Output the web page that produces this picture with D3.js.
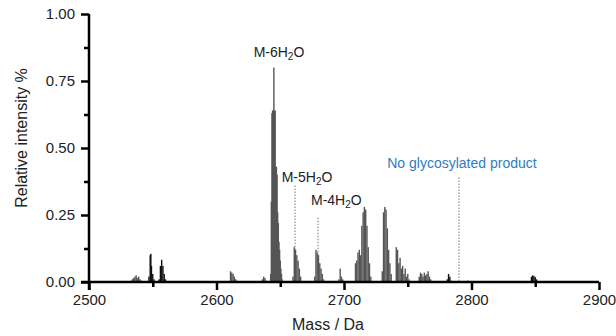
<!DOCTYPE html>
<html lang="en">
<head>
  <meta charset="UTF-8">
  <title>mass spectrum</title>
  <style>
    body { margin: 0; padding: 0; background: #fff; }
    svg { display: block; font-family: "Liberation Sans", Arial, sans-serif; }
    .axis path, .axis line { stroke: #000; stroke-width: 2.5px; }
    .axis text { font-size: 15px; fill: #222; }
  </style>
</head>
<body>
  <div class="chart"></div>

  <script src="https://cdnjs.cloudflare.com/ajax/libs/d3/7.8.5/d3.min.js"></script>
  <script>
    'use strict';

    // gray peaks (mass in Da, relative intensity)
    const grayMass = [
      2533, 2534, 2535, 2536, 2537, 2538, 2539, 2540, 2541,
      2611, 2612, 2613, 2614, 2615, 2616,
      2636, 2637, 2638, 2639,
      2642.5, 2643, 2643.5, 2644, 2644.5, 2645, 2645.5, 2646, 2646.5, 2647, 2647.5,
      2648, 2648.5, 2649, 2649.5, 2650, 2650.5, 2651, 2651.5,
      2660, 2661, 2662, 2663, 2664, 2665, 2666,
      2677, 2678, 2679, 2680, 2681, 2682, 2683, 2684,
      2696, 2697, 2698, 2699,
      2709, 2710, 2711, 2712, 2713, 2714, 2715, 2716, 2717, 2718, 2719, 2720, 2721,
      2730, 2731, 2732, 2733, 2734, 2735, 2736, 2737,
      2741, 2742, 2743, 2744, 2745, 2746, 2747, 2748, 2749, 2750, 2751,
      2759, 2760, 2761, 2762, 2763, 2764, 2765, 2766, 2767, 2768
    ];
    const grayInt = [
      0.005, 0.01, 0.015, 0.02, 0.025, 0.015, 0.02, 0.01, 0.005,
      0.04, 0.035, 0.03, 0.02, 0.01, 0.005,
      0.01, 0.02, 0.015, 0.005,
      0.03, 0.30, 0.63, 0.64, 0.64, 0.80, 0.64, 0.64, 0.43, 0.43, 0.40,
      0.26, 0.22, 0.15, 0.12, 0.08, 0.05, 0.03, 0.01,
      0.02, 0.13, 0.12, 0.10, 0.08, 0.05, 0.02,
      0.02, 0.12, 0.11, 0.10, 0.07, 0.05, 0.03, 0.01,
      0.01, 0.05, 0.02, 0.01,
      0.07, 0.08, 0.11, 0.12, 0.10, 0.21, 0.26, 0.28, 0.27, 0.21, 0.13, 0.07, 0.02,
      0.04, 0.26, 0.28, 0.27, 0.20, 0.12, 0.07, 0.03,
      0.13, 0.12, 0.07, 0.09, 0.05, 0.06, 0.03, 0.05, 0.02, 0.03, 0.01,
      0.02, 0.035, 0.03, 0.02, 0.035, 0.025, 0.03, 0.04, 0.02, 0.01
    ];

    // dark peaks
    const darkMass = [
      2547, 2548, 2548.5, 2549, 2550, 2551,
      2555, 2556, 2557, 2558, 2559, 2560,
      2781, 2782, 2783, 2784,
      2797, 2802, 2817,
      2847, 2848, 2849, 2850, 2851
    ];
    const darkInt = [
      0.02, 0.10, 0.105, 0.06, 0.03, 0.01,
      0.01, 0.06, 0.083, 0.06, 0.03, 0.01,
      0.01, 0.03, 0.02, 0.005,
      0.005, 0.003, 0.004,
      0.02, 0.025, 0.022, 0.018, 0.01
    ];

    const xTicks = [2500, 2600, 2700, 2800, 2900];
    const xMinor = [2550, 2650, 2750, 2850];
    const yTicks = [0, 0.25, 0.5, 0.75, 1.0];
    const yMinor = [0.125, 0.375, 0.625, 0.875];

    // annotations: text, label anchor (mass, value), guide line (mass, from, to)
    const annoText = ['M-6|2|O', 'M-5|2|O', 'M-4|2|O'];
    const annoMass = [2649, 2671, 2694];
    const annoY = [0.84, 0.373, 0.287];
    const guideMass = [null, 2661.6, 2679.6];
    const guideTop = [null, 0.36, 0.24];
    const guideBottom = [null, 0.115, 0.09];

    const noteText = 'No glycosylated product';
    const noteMass = 2792.5;
    const noteY = 0.425;
    const noteLine = [2790.2, 0.39, 0];

    const w = 616, h = 336;
    const x = d3.scaleLinear().domain([2500, 2900]).range([89, 599]);
    const y = d3.scaleLinear().domain([0, 1]).range([282, 14]);

    const svg = d3.select('.chart').append('svg')
      .attr('width', w)
      .attr('height', h);

    function drawBars(mass, inten, color) {
      svg.append('g')
        .selectAll('rect')
        .data(mass.map((m, i) => [m, inten[i]]))
        .join('rect')
        .attr('x', d => x(d[0]) - 0.7)
        .attr('width', 1.4)
        .attr('y', d => y(d[1]))
        .attr('height', d => y(0) - y(d[1]))
        .attr('fill', color);
    }

    drawBars(grayMass, grayInt, '#555');
    drawBars(darkMass, darkInt, '#111');

    // minor ticks
    svg.append('g')
      .attr('class', 'axis')
      .attr('transform', `translate(0,${y(0)})`)
      .call(d3.axisBottom(x).tickValues(xMinor).tickSize(5).tickSizeOuter(0).tickFormat(''))
      .select('.domain').remove();
    svg.append('g')
      .attr('class', 'axis')
      .attr('transform', `translate(${x(2500)},0)`)
      .call(d3.axisLeft(y).tickValues(yMinor).tickSize(5).tickSizeOuter(0).tickFormat(''))
      .select('.domain').remove();

    // major axes
    svg.append('g')
      .attr('class', 'axis')
      .attr('transform', `translate(0,${y(0)})`)
      .call(d3.axisBottom(x).tickValues(xTicks).tickSize(8).tickSizeOuter(0).tickPadding(4)
        .tickFormat(d3.format('d')))
      .call(g => g.select('.domain').attr('d', `M${x(2500) - 8},0H${x(2900)}`));
    svg.append('g')
      .attr('class', 'axis')
      .attr('transform', `translate(${x(2500)},0)`)
      .call(d3.axisLeft(y).tickValues(yTicks).tickSize(8).tickSizeOuter(0).tickPadding(6)
        .tickFormat(d3.format('.2f')))
      .call(g => g.select('.domain').attr('d', `M0,${y(1)}V${y(0) + 8}`));

    // axis titles
    svg.append('text')
      .attr('x', 328)
      .attr('y', 330)
      .attr('text-anchor', 'middle')
      .attr('font-size', 16)
      .attr('fill', '#222')
      .text('Mass / Da');
    svg.append('text')
      .attr('transform', 'translate(27,138) rotate(-90)')
      .attr('text-anchor', 'middle')
      .attr('font-size', 16)
      .attr('fill', '#222')
      .text('Relative intensity %');

    // peak labels
    annoText.forEach((t, i) => {
      const parts = t.split('|');
      const txt = svg.append('text')
        .attr('x', x(annoMass[i]))
        .attr('y', y(annoY[i]))
        .attr('text-anchor', 'middle')
        .attr('font-size', 14)
        .attr('fill', '#222');
      txt.append('tspan').text(parts[0] + 'H');
      txt.append('tspan').attr('font-size', 10).attr('dy', 3).text(parts[1]);
      txt.append('tspan').attr('dy', -3).text(parts[2]);

      if (guideMass[i] !== null) {
        svg.append('line')
          .attr('x1', x(guideMass[i]))
          .attr('x2', x(guideMass[i]))
          .attr('y1', y(guideTop[i]))
          .attr('y2', y(guideBottom[i]))
          .attr('stroke', '#777')
          .attr('stroke-width', 1)
          .attr('stroke-dasharray', '1.5,1.5');
      }
    });

    svg.append('text')
      .attr('x', x(noteMass))
      .attr('y', y(noteY))
      .attr('text-anchor', 'middle')
      .attr('font-size', 14)
      .attr('fill', '#2e7dc0')
      .text(noteText);
    svg.append('line')
      .attr('x1', x(noteLine[0]))
      .attr('x2', x(noteLine[0]))
      .attr('y1', y(noteLine[1]))
      .attr('y2', y(noteLine[2]))
      .attr('stroke', '#777')
      .attr('stroke-width', 1)
      .attr('stroke-dasharray', '1.5,1.5');
  </script>
</body>
</html>
